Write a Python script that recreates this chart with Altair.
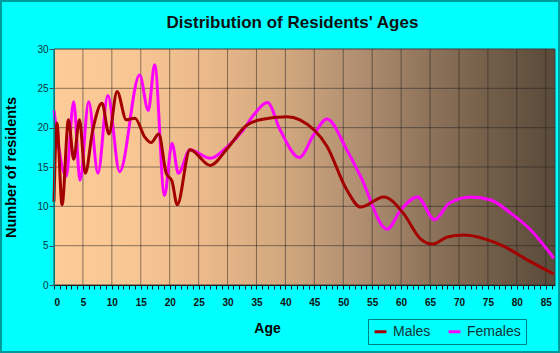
import altair as alt
import pandas as pd

# ---- data ----
male_ages = [0, 0.5, 1.4, 2.5, 3.4, 4.4, 5.4, 6.7, 8.3, 9.5, 10.9, 12.5, 14.0, 15.7,
             16.8, 18.1, 19.4, 20.4, 21.3, 23.5, 27.0, 30.0, 33.3, 35.6, 40.3, 42.5,
             47.2, 50.6, 53.0, 57.0, 60.4, 63.3, 65.4, 68.0, 70.8, 74.3, 77.8, 81.8, 86.4]
male_values = [10.6, 20.6, 10.2, 21.0, 16.0, 21.0, 14.2, 19.7, 23.1, 19.2, 24.6, 21.0, 21.2, 18.8,
               18.1, 19.2, 14.2, 13.2, 10.2, 17.2, 15.2, 17.4, 20.3, 21.0, 21.4, 21.0,
               17.6, 12.1, 9.9, 11.2, 9.1, 5.9, 5.2, 6.1, 6.35, 5.9, 4.9, 3.2, 1.4]

female_ages = [0, 2.1, 3.4, 4.5, 6.0, 7.6, 9.3, 11.35, 14.8, 16.3, 17.4, 19.1, 20.4, 21.5,
               23.5, 27.0, 30.0, 32.7, 34.5, 36.9, 39.1, 42.4, 44.9, 47.2, 50.6, 53.0,
               57.6, 59.9, 62.8, 65.8, 68.3, 72.0, 75.5, 79.0, 82.4, 86.4]
female_values = [22.2, 13.8, 23.3, 13.3, 23.3, 14.2, 24.1, 14.4, 26.7, 22.2, 28.0, 11.4, 18.0, 14.2,
                 17.2, 16.1, 17.6, 19.7, 21.6, 23.2, 19.7, 16.2, 19.1, 21.1, 17.2, 13.8,
                 7.1, 9.5, 11.2, 8.3, 10.4, 11.2, 10.8, 9.1, 7.0, 3.4]

series_names = ["Males", "Females"]
series_colors = ["#a30000", "#ff00ff"]

x_tick_values = list(range(0, 87))
x_grid_values = [5, 10, 15, 20, 25, 30, 35, 40, 45, 50, 55, 60, 65, 70, 75, 80, 85]
y_tick_values = [0, 5, 10, 15, 20, 25, 30]
y_grid_values = [5, 10, 15, 20, 25]

chart_title = "Distribution of Residents' Ages"
x_title = "Age"
y_title = "Number of residents"

# ---- layout ----
W, H = 501, 236
FONT = "Liberation Sans"

male_df = pd.DataFrame({"Age": male_ages, "Residents": male_values, "Sex": "Males"})
female_df = pd.DataFrame({"Age": female_ages, "Residents": female_values, "Sex": "Females"})

x_scale = alt.Scale(domain=[0, 86.6], nice=False, zero=False)
y_scale = alt.Scale(domain=[0, 30], nice=False)
color_scale = alt.Scale(domain=series_names, range=series_colors)

gradient = alt.LinearGradient(
    gradient="linear", x1=0, x2=1, y1=0, y2=0,
    stops=[
        alt.GradientStop(offset=0.0, color="#fdcb98"),
        alt.GradientStop(offset=0.15, color="#f8c794"),
        alt.GradientStop(offset=0.3, color="#ebb98a"),
        alt.GradientStop(offset=0.45, color="#d3a97f"),
        alt.GradientStop(offset=0.6, color="#b39072"),
        alt.GradientStop(offset=0.75, color="#8e735a"),
        alt.GradientStop(offset=0.9, color="#6d5945"),
        alt.GradientStop(offset=1.0, color="#5a4a3a"),
    ],
)

x_axis = alt.Axis(
    values=x_tick_values,
    labelExpr="datum.value % 5 === 0 ? datum.label : ''",
    labelOverlap=False,
    grid=False,
    tickSize=4, tickColor="#1a1a1a", domainColor="#1a1a1a",
    labelFont=FONT, labelFontSize=10, labelFontWeight="bold", labelColor="#111111",
    labelPadding=8,
    title=x_title, titleFont=FONT, titleFontSize=14, titleFontWeight="bold",
    titleColor="#000000", titleX=213, titleY=43, titleAlign="center",
    titleBaseline="middle", zindex=1,
)
y_axis = alt.Axis(
    values=y_tick_values, grid=False,
    tickSize=5, tickColor="#2a5a5a", domainColor="#007a7a",
    labelFont=FONT, labelFontSize=10, labelColor="#0b3333", labelPadding=1,
    title=y_title, titleFont=FONT, titleFontSize=14.5, titleFontWeight="bold",
    titleColor="#000000", titleX=-43, titleBaseline="middle", zindex=1,
)

legend = alt.Legend(
    title=None, orient="none", legendX=314, legendY=270, direction="horizontal",
    symbolType="stroke", symbolStrokeWidth=3, symbolSize=140,
    labelFont=FONT, labelFontSize=14, labelColor="#0b3333",
    strokeColor="#008080", padding=5, columnPadding=11, labelOffset=5,
)

one = pd.DataFrame({"k": [0]})

bg = alt.Chart(one).mark_rect(fill=gradient, stroke="#3e3e3e", strokeWidth=1).encode(
    x=alt.value(0), x2=alt.value(W), y=alt.value(0), y2=alt.value(H)
)

vgrid = alt.Chart(pd.DataFrame({"Age": x_grid_values})).mark_rule(
    color="#1e1e1e", opacity=0.5, strokeWidth=1
).encode(x=alt.X("Age:Q", scale=x_scale, axis=x_axis))

hgrid = alt.Chart(pd.DataFrame({"Residents": y_grid_values})).mark_rule(
    color="#1e1e1e", opacity=0.5, strokeWidth=1
).encode(y=alt.Y("Residents:Q", scale=y_scale, axis=y_axis))


def line_layer(df):
    return alt.Chart(df).mark_line(strokeWidth=3, interpolate="monotone").encode(
        x=alt.X("Age:Q", scale=x_scale, axis=x_axis),
        y=alt.Y("Residents:Q", scale=y_scale, axis=y_axis),
        color=alt.Color("Sex:N", scale=color_scale, legend=legend),
    )

females = line_layer(female_df)
males = line_layer(male_df)

border = alt.Chart(one).mark_rect(filled=False, stroke="#009a9a", strokeWidth=2).encode(
    x=alt.value(-53), x2=alt.value(505), y=alt.value(-48), y2=alt.value(303)
)

chart = alt.layer(bg, vgrid, hgrid, females, males, border).properties(
    width=W, height=H,
    autosize=alt.AutoSizeParams(type="none"),
    padding={"left": 54, "top": 49, "right": 5, "bottom": 68},
    background="#00ffff",
    title=alt.TitleParams(
        chart_title, font=FONT, fontSize=17, fontWeight="bold", color="#111111",
        anchor="middle", dx=-12, offset=-49, baseline="bottom",
    ),
).configure_view(stroke=None)

chart.save("out.html", embed_options={"renderer": "svg", "actions": False})
